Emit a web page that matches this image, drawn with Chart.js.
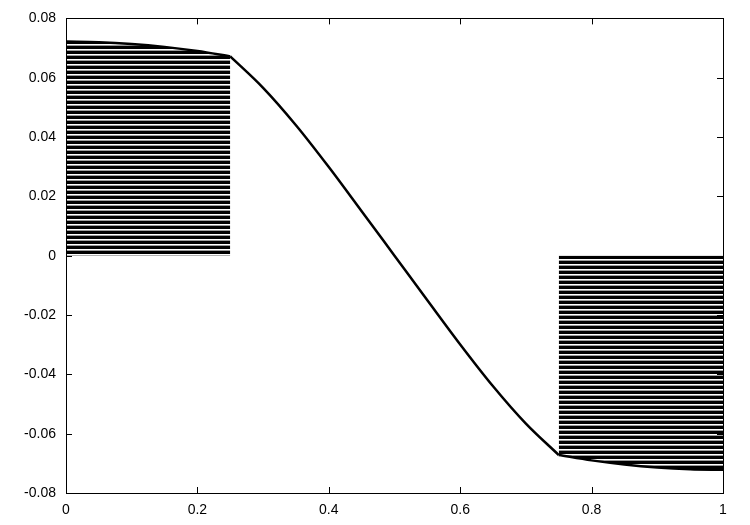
<!DOCTYPE html>
<html>
<head>
<meta charset="utf-8">
<script src="https://cdn.jsdelivr.net/npm/chart.js@4"></script>
<style>
  html, body { margin: 0; padding: 0; background: #fff; }
  #wrap { width: 750px; height: 525px; }
</style>
</head>
<body>
<div id="wrap"><canvas id="c" width="750" height="525"></canvas></div>
<script>
// Curve, in three pieces so the corners at 0.25 and 0.75 stay sharp.
const leftX = [0, 0.05, 0.1, 0.15, 0.2, 0.25];
const leftY = [0.0722, 0.0720, 0.0714, 0.0704, 0.0690, 0.0672];
const midX = [0.25, 0.3, 0.35, 0.4, 0.45, 0.5, 0.55, 0.6, 0.65, 0.7, 0.75];
const midY = [0.0672, 0.0566, 0.0440, 0.0299, 0.0150, 0, -0.0150, -0.0299, -0.0440, -0.0566, -0.0672];
const rightX = [0.75, 0.8, 0.85, 0.9, 0.95, 1];
const rightY = [-0.0672, -0.0690, -0.0704, -0.0714, -0.0720, -0.0722];

const xTicks = [0, 0.2, 0.4, 0.6, 0.8, 1];
const xTickLabels = ["0", "0.2", "0.4", "0.6", "0.8", "1"];
const yTicks = [-0.08, -0.06, -0.04, -0.02, 0, 0.02, 0.04, 0.06, 0.08];
const yTickLabels = ["-0.08", "-0.06", "-0.04", "-0.02", "0", "0.02", "0.04", "0.06", "0.08"];

const pts = (xs, ys) => xs.map((x, i) => ({ x, y: ys[i] }));

// horizontal hatch: thick black lines with thin white gaps
function hatch() {
  const p = document.createElement("canvas");
  p.width = 8; p.height = 5;
  const g = p.getContext("2d");
  g.fillStyle = "#fff";
  g.fillRect(0, 0, 8, 5);
  g.fillStyle = "#000";
  g.fillRect(0, 0.6, 8, 3.4);
  return g.createPattern(p, "repeat");
}
const pattern = hatch();

// gnuplot-like frame with ticks pointing inward on all four sides
const framePlugin = {
  id: "frame",
  afterDraw(chart) {
    const { ctx, chartArea: a, scales } = chart;
    const len = 6;
    ctx.save();
    ctx.strokeStyle = "#000";
    ctx.lineWidth = 1;
    ctx.beginPath();
    xTicks.forEach(v => {
      const px = Math.round(scales.x.getPixelForValue(v)) + 0.5;
      ctx.moveTo(px, a.bottom); ctx.lineTo(px, a.bottom - len);
      ctx.moveTo(px, a.top); ctx.lineTo(px, a.top + len);
    });
    yTicks.forEach(v => {
      const py = Math.round(scales.y.getPixelForValue(v)) + 0.5;
      ctx.moveTo(a.left, py); ctx.lineTo(a.left + len, py);
      ctx.moveTo(a.right, py); ctx.lineTo(a.right - len, py);
    });
    ctx.stroke();
    ctx.strokeRect(Math.round(a.left) + 0.5, Math.round(a.top) + 0.5,
      Math.round(a.right - a.left), Math.round(a.bottom - a.top));
    ctx.restore();
  }
};

const lineStyle = {
  borderColor: "#000",
  borderWidth: 2.5,
  pointRadius: 0,
  cubicInterpolationMode: "monotone",
  parsing: false
};

new Chart(document.getElementById("c"), {
  type: "line",
  data: {
    datasets: [
      { ...lineStyle, data: pts(leftX, leftY), fill: "origin", backgroundColor: pattern },
      { ...lineStyle, data: pts(midX, midY), fill: false },
      { ...lineStyle, data: pts(rightX, rightY), fill: "origin", backgroundColor: pattern }
    ]
  },
  options: {
    responsive: false,
    animation: false,
    layout: { padding: { top: 17, right: 27, left: 0, bottom: 0 } },
    plugins: { legend: { display: false }, tooltip: { enabled: false } },
    scales: {
      x: {
        type: "linear",
        min: 0, max: 1,
        grid: { display: false, drawTicks: false },
        border: { display: false },
        afterBuildTicks: s => { s.ticks = xTicks.map(v => ({ value: v })); },
        afterFit: s => { s.height = 32; },
        ticks: {
          padding: 9,
          color: "#000",
          font: { family: "Liberation Sans", size: 14 },
          maxRotation: 0,
          callback: v => xTickLabels[xTicks.indexOf(v)]
        }
      },
      y: {
        type: "linear",
        min: -0.08, max: 0.08,
        grid: { display: false, drawTicks: false },
        border: { display: false },
        afterBuildTicks: s => { s.ticks = yTicks.map(v => ({ value: v })); },
        afterFit: s => { s.width = 66; },
        ticks: {
          padding: 10,
          color: "#000",
          font: { family: "Liberation Sans", size: 14 },
          callback: v => yTickLabels[yTicks.findIndex(t => Math.abs(t - v) < 1e-9)]
        }
      }
    }
  },
  plugins: [framePlugin]
});
</script>
</body>
</html>
